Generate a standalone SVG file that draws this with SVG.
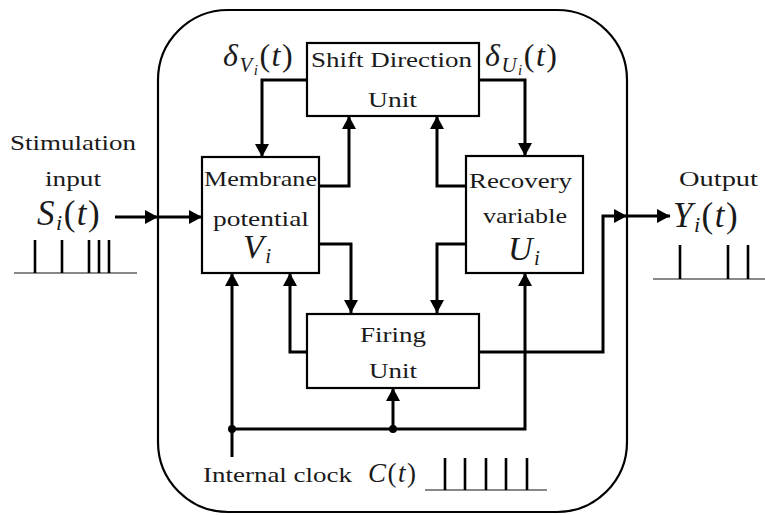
<svg xmlns="http://www.w3.org/2000/svg" width="765" height="515" viewBox="0 0 765 515" font-family="Liberation Serif, Times New Roman, Times, DejaVu Serif, Noto Serif, serif">
<defs>
<style>
.box{fill:#fff;stroke:#000;stroke-width:2.2}
.c{fill:none;stroke:#000;stroke-width:3}
.t{font-size:22px;fill:#1a1a1a}
.m{font-style:italic;fill:#1a1a1a;letter-spacing:1.5px}
.pulse{fill:none;stroke:#000;stroke-width:2.6}
.base{fill:none;stroke:#888;stroke-width:1.8}
</style>
<marker id="ah" markerUnits="userSpaceOnUse" markerWidth="14" markerHeight="14" refX="13" refY="7" orient="auto">
<path d="M0,0 L13,7 L0,14 z" fill="#000"/>
</marker>
</defs>
<rect width="765" height="515" fill="#fff"/>
<g id="outer">
<rect x="158" y="10" width="469" height="502" rx="70" ry="70" fill="none" stroke="#000" stroke-width="2.2"/>
</g>
<g id="connectors">
<path class="c" d="M307,80 H262 V157" marker-end="url(#ah)"/>
<path class="c" d="M479,80 H525 V156" marker-end="url(#ah)"/>
<path class="c" d="M319,186 H349 V116" marker-end="url(#ah)"/>
<path class="c" d="M466,186 H437 V116" marker-end="url(#ah)"/>
<path class="c" d="M319,244 H351 V313" marker-end="url(#ah)"/>
<path class="c" d="M466,244 H437 V313" marker-end="url(#ah)"/>
<path class="c" d="M307,352 H290 V273" marker-end="url(#ah)"/>
<path class="c" d="M479,352 H603 V216 H627" marker-end="url(#ah)"/>
<path class="c" d="M627,216 H670" marker-end="url(#ah)"/>
<path class="c" d="M115,217 H158" marker-end="url(#ah)"/>
<path class="c" d="M158,217 H202" marker-end="url(#ah)"/>
<path class="c" d="M232,457 V273" marker-end="url(#ah)"/>
<path class="c" d="M232,429 H525 V273" marker-end="url(#ah)"/>
<path class="c" d="M393,429 V388" marker-end="url(#ah)"/>
<circle cx="232" cy="429" r="4" fill="#000"/>
<circle cx="393" cy="429" r="4" fill="#000"/>
</g>
<g id="shift">
<rect class="box" x="307" y="43" width="172" height="73"/>
<text class="t" x="311" y="67" textLength="161" lengthAdjust="spacingAndGlyphs">Shift Direction</text>
<text class="t" x="368" y="107" textLength="49" lengthAdjust="spacingAndGlyphs">Unit</text>
</g>
<g id="membrane">
<rect class="box" x="202" y="157" width="117" height="116"/>
<text class="t" x="204" y="186" textLength="113" lengthAdjust="spacingAndGlyphs">Membrane</text>
<text class="t" x="213" y="226" textLength="96" lengthAdjust="spacingAndGlyphs">potential</text>
<text class="m" x="243" y="258" font-size="34">V<tspan font-size="21" dy="5">i</tspan></text>
</g>
<g id="recovery">
<rect class="box" x="466" y="156" width="117" height="117"/>
<text class="t" x="469" y="188" textLength="103" lengthAdjust="spacingAndGlyphs">Recovery</text>
<text class="t" x="483" y="223" textLength="84" lengthAdjust="spacingAndGlyphs">variable</text>
<text class="m" x="508" y="260" font-size="34">U<tspan font-size="21" dy="5">i</tspan></text>
</g>
<g id="firing">
<rect class="box" x="307" y="314" width="172" height="74"/>
<text class="t" x="360" y="342" textLength="66" lengthAdjust="spacingAndGlyphs">Firing</text>
<text class="t" x="369" y="378" textLength="48" lengthAdjust="spacingAndGlyphs">Unit</text>
</g>
<g id="labels">
<text class="m" x="223" y="66" font-size="32">δ<tspan font-size="21" dy="6">V</tspan><tspan font-size="15" dy="3">i</tspan><tspan font-style="normal" dy="-9">(</tspan>t<tspan font-style="normal">)</tspan></text>
<text class="m" x="485" y="66" font-size="32">δ<tspan font-size="21" dy="6">U</tspan><tspan font-size="15" dy="3">i</tspan><tspan font-style="normal" dy="-9">(</tspan>t<tspan font-style="normal">)</tspan></text>
<text class="t" x="10" y="150" textLength="126" lengthAdjust="spacingAndGlyphs">Stimulation</text>
<text class="t" x="45" y="186" textLength="56" lengthAdjust="spacingAndGlyphs">input</text>
<text class="m" x="37" y="225" font-size="35">S<tspan font-size="22" dy="5">i</tspan><tspan font-style="normal" dy="-5">(</tspan>t<tspan font-style="normal">)</tspan></text>
<text class="t" x="679" y="186" textLength="79" lengthAdjust="spacingAndGlyphs">Output</text>
<text class="m" x="673" y="227" font-size="35">Y<tspan font-size="22" dy="5">i</tspan><tspan font-style="normal" dy="-5">(</tspan>t<tspan font-style="normal">)</tspan></text>
<text class="t" x="203" y="482" textLength="149" lengthAdjust="spacingAndGlyphs">Internal clock</text>
<text class="m" x="368" y="482" font-size="27">C<tspan font-style="normal">(</tspan>t<tspan font-style="normal">)</tspan></text>
</g>
<g id="input-pulses">
<path class="base" d="M14,273 H137"/>
<path class="pulse" d="M35,273 V240 M62,273 V240 M89,273 V240 M99,273 V240 M109,273 V240"/>
</g>
<g id="output-pulses">
<path class="base" d="M653,279 H765"/>
<path class="pulse" d="M680,279 V245 M728,279 V245 M748,279 V245"/>
</g>
<g id="clock-pulses">
<path class="base" d="M425,490 H547"/>
<path class="pulse" d="M445,490 V458 M465,490 V458 M486,490 V458 M506,490 V458 M527,490 V458"/>
</g>
</svg>
